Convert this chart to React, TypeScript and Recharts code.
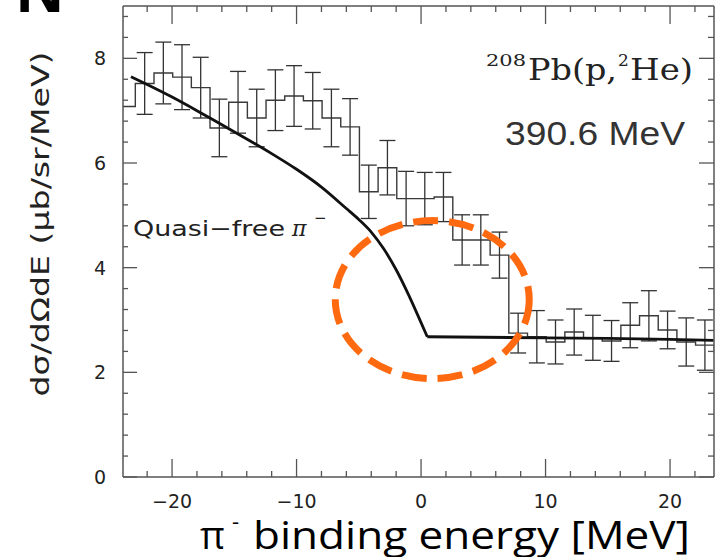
import React from 'react';
import { ComposedChart, Line, Scatter, XAxis, YAxis, ErrorBar, ReferenceDot } from 'recharts';

// Histogram bins (1.5 MeV wide): centers, values, half error bars
const binCenters = [-23.7, -22.2, -20.7, -19.2, -17.7, -16.2, -14.7, -13.2, -11.7, -10.2, -8.7, -7.2, -5.7, -4.2, -2.7, -1.2, 0.3, 1.8, 3.3, 4.8, 6.3, 7.8, 9.3, 10.8, 12.3, 13.8, 15.3, 16.8, 18.3, 19.8, 21.3, 22.8, 24.3];
const binValues = [7.08, 7.52, 7.72, 7.64, 7.44, 6.67, 7.16, 6.86, 7.2, 7.28, 7.19, 6.86, 6.69, 5.45, 5.91, 5.32, 5.32, 5.35, 4.53, 4.53, 4.24, 2.75, 2.68, 2.58, 2.77, 2.66, 2.6, 2.9, 3.08, 2.81, 2.58, 2.52, 2.39];
const binErrors = [null, 0.59, 0.59, 0.62, 0.58, 0.55, 0.59, 0.55, 0.58, 0.58, 0.54, 0.55, 0.54, 0.51, 0.52, 0.52, 0.5, 0.47, 0.48, 0.48, 0.44, 0.38, 0.5, 0.42, 0.44, 0.43, 0.39, 0.43, 0.48, 0.36, 0.46, 0.48, null];
const binWidth = 1.5;

// Quasi-free pi- curve: smooth falling part, then flat part after the kink
const curveX = [-23.3, -22, -20, -18, -16, -14, -12, -10, -8, -6, -5, -4, -3, -2, -1, 0, 0.5];
const curveY = [7.65, 7.5, 7.26, 7.0, 6.73, 6.46, 6.18, 5.88, 5.54, 5.13, 4.92, 4.68, 4.36, 3.96, 3.48, 2.95, 2.68];
const flatX = [0.5, 5, 10, 15, 20, 23.5];
const flatY = [2.68, 2.67, 2.66, 2.65, 2.63, 2.61];

// Axes
const xDomain = [-23.94, 23.53];
const yDomain = [0, 9];
const xTicks = [-22, -20, -18, -16, -14, -12, -10, -8, -6, -4, -2, 0, 2, 4, 6, 8, 10, 12, 14, 16, 18, 20, 22];
const xTickLabels = [-20, -10, 0, 10, 20];
const yTicks = [0, 0.4, 0.8, 1.2, 1.6, 2, 2.4, 2.8, 3.2, 3.6, 4, 4.4, 4.8, 5.2, 5.6, 6, 6.4, 6.8, 7.2, 7.6, 8, 8.4, 8.8];
const yTickLabels = [0, 2, 4, 6, 8];

// Highlight ellipse centre (data coordinates)
const highlight = { x: 0.9, y: 3.39 };

const histData = [
  ...binCenters.map((c, i) => ({ x: c - binWidth / 2, y: binValues[i] })),
  { x: binCenters[binCenters.length - 1] + binWidth / 2, y: binValues[binValues.length - 1] },
];
const errData = binCenters
  .map((c, i) => ({ x: c, y: binValues[i], err: binErrors[i] }))
  .filter((d) => d.err !== null);
const curveData = curveX.map((x, i) => ({ x, y: curveY[i] }));
const flatData = flatX.map((x, i) => ({ x, y: flatY[i] }));

const isMajor = (v: number, list: number[]) => list.some((m) => Math.abs(m - v) < 1e-6);
const fmt = (v: number) => (v < 0 ? '\u2212' + Math.abs(v) : String(v));

const tickFont = { fontFamily: 'DejaVu Sans', fontSize: 19, fill: '#222' };
const axisColor = '#555';

const BottomTick = (p: any) => {
  const v = p.payload.value;
  const major = isMajor(v, xTickLabels);
  return (
    <g>
      <line x1={p.x} x2={p.x} y1={p.y} y2={p.y - (major ? 18 : 6)} stroke={axisColor} strokeWidth={1.3} />
      {major && (
        <text x={p.x} y={p.y + 31} textAnchor="middle" {...tickFont}>{fmt(v)}</text>
      )}
    </g>
  );
};
const TopTick = (p: any) => {
  const v = p.payload.value;
  const major = isMajor(v, xTickLabels);
  return <line x1={p.x} x2={p.x} y1={p.y} y2={p.y + (major ? 18 : 6)} stroke={axisColor} strokeWidth={1.3} />;
};
const LeftTick = (p: any) => {
  const v = p.payload.value;
  const major = isMajor(v, yTickLabels);
  return (
    <g>
      <line x1={p.x} x2={p.x + (major ? 14 : 5)} y1={p.y} y2={p.y} stroke={axisColor} strokeWidth={1.3} />
      {major && (
        <text x={p.x - 17} y={p.y + 7} textAnchor="end" {...tickFont}>{fmt(v)}</text>
      )}
    </g>
  );
};
const RightTick = (p: any) => {
  const v = p.payload.value;
  const major = isMajor(v, yTickLabels);
  return <line x1={p.x} x2={p.x - (major ? 15 : 6)} y1={p.y} y2={p.y} stroke={axisColor} strokeWidth={1.3} />;
};

const EllipseShape = (p: any) => (
  <ellipse cx={p.cx} cy={p.cy} rx={97} ry={79} fill="none" stroke="#FF6A10" strokeWidth={7} strokeDasharray="25 11" />
);

export default function App() {
  return (
    <div style={{ position: 'fixed', left: 0, top: 0, width: 720, height: 557, background: '#fff', overflow: 'hidden' }}>
      <ComposedChart width={720} height={557} margin={{ top: 5, right: 5, left: 0, bottom: 0 }}>
        <XAxis
          type="number"
          dataKey="x"
          domain={xDomain}
          ticks={xTicks}
          allowDataOverflow
          height={80}
          tickSize={0}
          tickMargin={0}
          tickLine={false}
          axisLine={{ stroke: axisColor, strokeWidth: 1.5 }}
          tick={<BottomTick />}
          interval={0}
        />
        <XAxis
          xAxisId="top"
          orientation="top"
          type="number"
          dataKey="x"
          domain={xDomain}
          ticks={xTicks}
          allowDataOverflow
          height={1}
          tickSize={0}
          tickMargin={0}
          tickLine={false}
          axisLine={{ stroke: axisColor, strokeWidth: 1.5 }}
          tick={<TopTick />}
          interval={0}
        />
        <YAxis
          type="number"
          domain={yDomain}
          ticks={yTicks}
          allowDataOverflow
          width={123}
          tickSize={0}
          tickMargin={0}
          tickLine={false}
          axisLine={{ stroke: axisColor, strokeWidth: 1.5 }}
          tick={<LeftTick />}
          interval={0}
        />
        <YAxis
          yAxisId="right"
          orientation="right"
          type="number"
          domain={yDomain}
          ticks={yTicks}
          allowDataOverflow
          width={1}
          tickSize={0}
          tickMargin={0}
          tickLine={false}
          axisLine={{ stroke: axisColor, strokeWidth: 1.5 }}
          tick={<RightTick />}
          interval={0}
        />
        <Line
          xAxisId="top"
          yAxisId="right"
          data={flatData}
          dataKey="y"
          stroke="none"
          dot={false}
          legendType="none"
          isAnimationActive={false}
        />
        <Line
          data={histData}
          dataKey="y"
          type="stepAfter"
          stroke="#3a3a3a"
          strokeWidth={1.4}
          dot={false}
          isAnimationActive={false}
        />
        <Scatter data={errData} dataKey="y" shape={() => <g />} isAnimationActive={false}>
          <ErrorBar dataKey="err" direction="y" width={8} stroke="#333" strokeWidth={1.3} />
        </Scatter>
        <Line
          data={curveData}
          dataKey="y"
          type="monotone"
          stroke="#111"
          strokeWidth={2.8}
          dot={false}
          isAnimationActive={false}
        />
        <Line
          data={flatData}
          dataKey="y"
          type="linear"
          stroke="#111"
          strokeWidth={2.8}
          dot={false}
          isAnimationActive={false}
        />
        <ReferenceDot x={highlight.x} y={highlight.y} ifOverflow="visible" shape={<EllipseShape />} />
      </ComposedChart>
      <svg width={720} height={557} style={{ position: 'absolute', left: 0, top: 0, pointerEvents: 'none' }}>
        <text x={16} y={12} fontFamily="Liberation Sans" fontWeight="bold" fontSize={66} fill="#000">N</text>
        <text
          transform="translate(49,224) rotate(-90)"
          textAnchor="middle"
          fontFamily="DejaVu Sans"
          fontSize={25}
          fill="#222"
          textLength={345}
          lengthAdjust="spacingAndGlyphs"
        >
          dσ/dΩdE (μb/sr/MeV)
        </text>
        <text x={486} y={66} fontFamily="DejaVu Serif" fontSize={17} fill="#222" textLength={40} lengthAdjust="spacingAndGlyphs">208</text>
        <text x={528} y={80} fontFamily="DejaVu Serif" fontSize={29} fill="#222" textLength={89} lengthAdjust="spacingAndGlyphs">Pb(p,</text>
        <text x={618} y={66} fontFamily="DejaVu Serif" fontSize={17} fill="#222">2</text>
        <text x={630} y={80} fontFamily="DejaVu Serif" fontSize={29} fill="#222" textLength={63} lengthAdjust="spacingAndGlyphs">He)</text>
        <text x={505} y={145} fontFamily="Liberation Sans" fontSize={33} fill="#333" textLength={180} lengthAdjust="spacingAndGlyphs">390.6 MeV</text>
        <text x={133} y={236} fontFamily="DejaVu Sans" fontSize={22} fill="#222" textLength={152} lengthAdjust="spacingAndGlyphs">Quasi−free</text>
        <text x={292} y={236} fontFamily="DejaVu Serif" fontSize={22} fontStyle="italic" fill="#222">π</text>
        <text x={314} y={223} fontFamily="DejaVu Sans" fontSize={15} fill="#222">−</text>
        <text x={200} y={549} fontFamily="Open Sans" fontSize={38} fill="#000">π</text>
        <text x={232} y={529} fontFamily="Open Sans" fontSize={22} fill="#000">-</text>
        <text x={253} y={549} fontFamily="Open Sans" fontSize={38} fill="#000" textLength={437} lengthAdjust="spacingAndGlyphs">binding energy [MeV]</text>
      </svg>
    </div>
  );
}
